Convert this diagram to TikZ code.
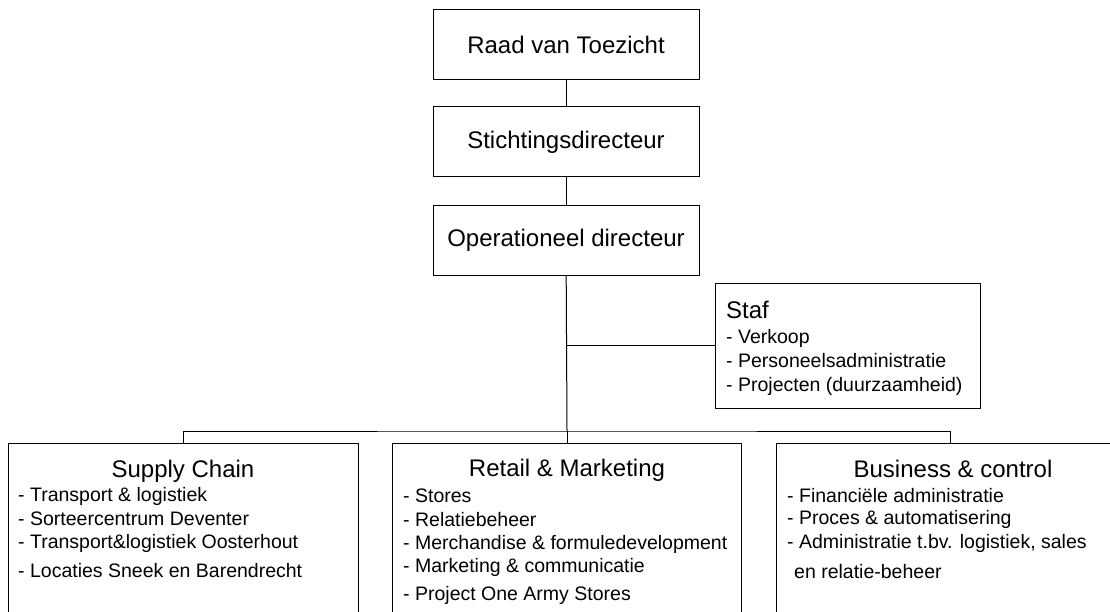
\documentclass[tikz,border=0pt]{standalone}
\usepackage{fontspec}
\setmainfont{Liberation Sans}
\tikzset{
  box/.style={draw, line width=1pt, inner sep=0pt},
  title/.style={font=\fontsize{24}{28}\selectfont},
  item/.style={anchor=base west, inner sep=0pt, font=\fontsize{19.5}{24}\selectfont},
}
\begin{document}
\begin{tikzpicture}[x=1pt,y=-1pt]
   \useasboundingbox (0,0) rectangle (1110,612);
   \clip (0,0) rectangle (1110,612);
   % top line of command
   \node[box, title, minimum width=266pt, minimum height=70pt] (raad) at (566,45) {Raad van Toezicht};
   \node[box, title, minimum width=266pt, minimum height=70pt] (stichting) at (566,142) {Stichtingsdirecteur};
   \node[box, title, minimum width=266pt, minimum height=69pt] (operationeel) at (566,240.5) {Operationeel directeur};
   \draw[line width=1pt] (raad) -- (stichting);
   \draw[line width=1pt] (stichting) -- (operationeel);
   % staff
   \node[box, minimum width=265pt, minimum height=125pt] (staf) at (847.5,345.5) {};
   \node[item, title] (staftitle) at (726,318) {Staf};
   \foreach \y/\t [count=\i] in {343/- Verkoop, 367/- Personeelsadministratie, 391/- Projecten (duurzaamheid)}
      \node[item] (staf-\i) at (726,\y) {\t};
   % departments
   \node[box, minimum width=350pt, minimum height=197pt] (supply) at (183,541.5) {};
   \node[box, minimum width=349pt, minimum height=197pt] (retail) at (566.5,541.5) {};
   \node[box, minimum width=349pt, minimum height=197pt] (business) at (950.5,541.5) {};
   \node[title, anchor=base, inner sep=0pt] (supplytitle) at (183,477) {Supply Chain};
   \node[title, anchor=base, inner sep=0pt] (retailtitle) at (567,476) {Retail \& Marketing};
   \node[title, anchor=base, inner sep=0pt] (businesstitle) at (953,477) {Business \& control};
   \foreach \y/\t [count=\i] in {501/- Transport \& logistiek, 525/- Sorteercentrum Deventer,
         548/- Transport\&logistiek Oosterhout, 577/- Locaties Sneek en Barendrecht}
      \node[item] (supply-\i) at (18,\y) {\t};
   \foreach \y/\t [count=\i] in {502/- Stores, 526/- Relatiebeheer, 549/- Merchandise \& formuledevelopment,
         572/- Marketing \& communicatie, 600/- Project One Army Stores}
      \node[item] (retail-\i) at (403,\y) {\t};
   \foreach \y/\t [count=\i] in {502/- Financiële administratie, 524/- Proces \& automatisering,
         548/{- Administratie t.bv. logistiek, sales}}
      \node[item] (business-\i) at (787,\y) {\t};
   \node[item] (business-4) at (794,578) {en relatie-beheer};
   % connectors
   \coordinate (bus) at (567,431);
   \draw[line width=1pt] (operationeel) -- (bus);
   \draw[line width=1pt] (staf.west) -- (staf.west -| bus);
   \draw[line width=1pt] (supply.north) |- (bus) -| (business.north);
   \draw[line width=1pt] (bus) -- (bus |- retail.north);
\end{tikzpicture}
\end{document}
